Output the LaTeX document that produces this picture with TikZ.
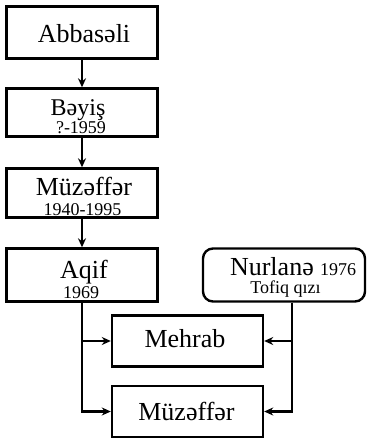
\documentclass[tikz,border=0pt]{standalone}
\usepackage{fontspec}
\setmainfont{Liberation Serif}
\usetikzlibrary{arrows.meta}
\begin{document}
\begin{tikzpicture}[x=1pt,y=-1pt,
  box/.style={draw=black,line width=2.4pt,rectangle,inner sep=0pt},
  rbox/.style={box,rounded corners=10pt},
  big/.style={anchor=base,inner sep=0pt,font=\fontsize{26}{26}\selectfont},
  small/.style={anchor=base,inner sep=0pt,font=\fontsize{18}{18}\selectfont},
  arr/.style={line width=2.4pt,-{Stealth[length=9pt,width=8pt]}}]
\useasboundingbox (0,0) rectangle (368,439);
% boxes
\node[box,minimum width=151pt,minimum height=52pt] (abb) at (82,32.5) {};
\node[box,minimum width=151pt,minimum height=48pt] (bey) at (82,112.5) {};
\node[box,minimum width=151pt,minimum height=49pt] (muz1) at (82,193) {};
\node[box,minimum width=151pt,minimum height=53pt] (aqif) at (82,275) {};
\node[rbox,minimum width=162pt,minimum height=53pt] (nur) at (284,275) {};
\node[box,minimum width=151pt,minimum height=51pt] (meh) at (187.5,341) {};
\node[box,minimum width=151pt,minimum height=51pt] (muz2) at (187.5,411.5) {};
% texts
\node[big] (tabb) at (84,42) {Abbasəli};
\node[big,font=\fontsize{24}{24}\selectfont] (tbey) at (78,115) {Bəyiş};
\node[small] (tbeyd) at (81,133) {?-1959};
\node[big] (tmuz1) at (84,195) {Müzəffər};
\node[small] (tmuz1d) at (82.5,215) {1940-1995};
\node[big] (taqif) at (84,278) {Aqif};
\node[small] (taqifd) at (81,298) {1969};
\node[big,anchor=base east] (tnur) at (314,275) {Nurlanə};
\node[small,anchor=base west] (tnury) at (320,275) {1976};
\node[small] (tnurq) at (285.5,293) {Tofiq qızı};
\node[big] (tmeh) at (185,347) {Mehrab};
\node[big] (tmuz2) at (186.5,420) {Müzəffər};
% connectors
\draw[arr] (abb.south) -- (bey.north);
\draw[arr] (bey.south) -- (muz1.north);
\draw[arr] (muz1.south) -- (aqif.north);
\draw[arr] (aqif.south) |- (meh.west);
\draw[arr] (aqif.south) |- (muz2.west);
\coordinate (nb) at ([xshift=8pt]nur.south);
\draw[arr] (nb) |- (meh.east);
\draw[arr] (nb) |- (muz2.east);
\end{tikzpicture}
\end{document}
